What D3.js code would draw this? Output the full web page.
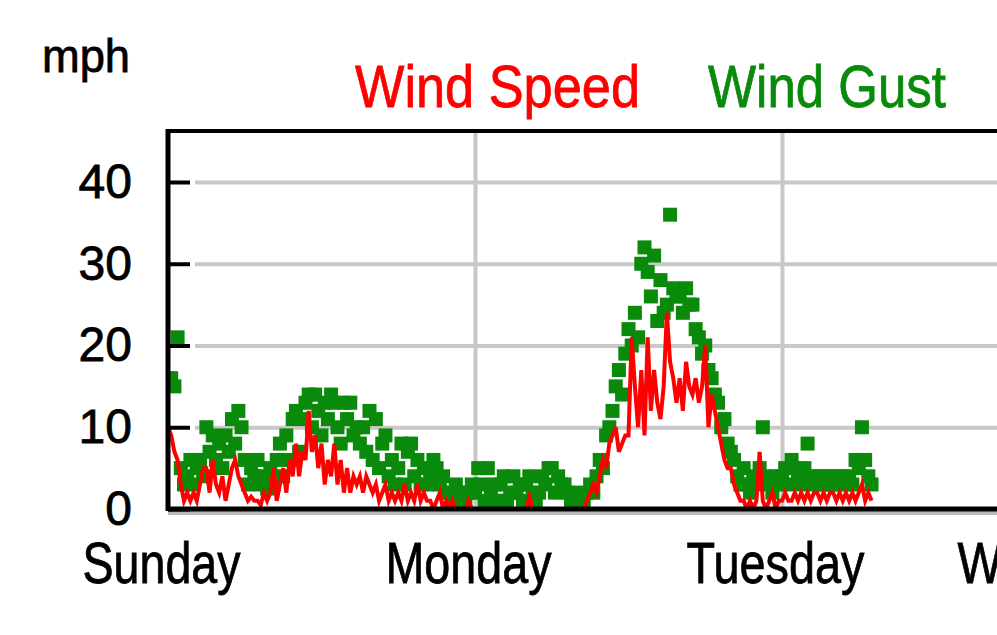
<!DOCTYPE html>
<html>
<head>
<meta charset="utf-8">
<script src="https://cdn.jsdelivr.net/npm/d3@7"></script>
<style>
  body { margin: 0; background: #fff; overflow: hidden; }
  svg { display: block; }
  text { font-family: "Liberation Sans", Arial, sans-serif; }
</style>
</head>
<body>
<svg id="chart" width="997" height="635"></svg>
<script>
// samples every 15 minutes, starting Sunday 00:00
var stepHours = 0.25;
var dayNames = ["Sunday", "Monday", "Tuesday", "Wednesday"];
var dayTicks = [0, 24, 48, 72];
var mphTicks = [0, 10, 20, 30, 40];

// one row per hour of the record
var windSpeed = [
  10, 9, 7, 6,   3, 1, 2, 1,   2, 1, 3, 5,   5, 2, 6, 3,
  2, 4, 1, 3,    5, 6, 4, 3,   2, 1, 1.5, 1, 1, 0.5, 2, 1,
  2, 5, 1, 3,    5, 2, 6, 4,   8, 4, 7, 6,   12, 7, 9, 5,
  8, 3, 6, 4,    8, 3, 6, 2,   5, 2, 4, 3,   4, 2, 4, 3,
  2, 3, 1, 2,    3, 1, 2, 1,   2, 1, 3, 1,   2, 1, 3, 1,
  2, 1, 1, 0,    1, 2, 0, 1,   0, 1, 0, 0,   0, 0, 1, 0,
  0, 0, 0, 0,    0, 0, 0, 0,   0, 0, 0, 0,   0, 0, 0, 0,
  0, 1.5, 0, 0,  0, 0, 0, 0,   0, 0, 0, 0,   0, 0, 0, 0,
  0, 0, 0, 1,    2, 3, 2, 4,   6, 5, 8, 9,   10, 7, 8, 9,
  9, 21, 15, 10, 17, 9, 21, 12, 17, 13, 11, 15, 24, 18, 16, 13,
  16, 12, 18, 15, 14, 16, 13, 15, 20, 10, 14, 12, 10, 8, 6, 5,
  5, 3, 2, 1,    1, 0, 1, 0,   1, 7, 1, 0,   1, 2, 0, 1,
  1, 2, 1, 1,    2, 1, 2, 1,   2, 1, 2, 2,   1, 2, 1, 2,
  2, 1, 2, 1,    2, 1, 2, 1,   2, 3, 1, 2,
  1];

var windGust = [
  16, 16, 15, 21, 5, 3, 4, 6,   3, 5, 6, 4,   10, 7, 9, 6,
  8, 5, 9, 7,    11, 8, 12, 10, 6, 3, 5, 4,   6, 3, 4, 2.5,
  5, 3, 6, 8,    4, 9, 6, 11,  12, 7, 11, 13, 14, 10, 14, 12,
  9, 13, 11, 14, 13, 10, 8, 13, 11, 13, 9, 10, 8, 10, 7, 12,
  6, 11, 5, 8,   9, 4, 6, 3,   5, 8, 3, 7,   8, 4, 6, 3,
  5, 3, 4, 6,    5, 3, 4, 2,   2, 1, 3, 1,   2, 1, 2, 3,
  2, 5, 3, 1,    5, 2, 3, 1,   3, 4, 1, 2,   4, 2, 3, 1,
  3, 4, 2, 1,    2, 4, 3, 5,   5, 2, 4, 3,   3, 2, 1, 2,
  1, 0, 1, 2,    3, 2, 4, 6,   5, 9, 10, 12, 15, 17, 14, 19,
  22, 20, 24, 21, 30, 32, 29, 26, 31, 23, 28, 24, 25, 36, 27, 26,
  26, 24, 27, 25, 25, 22, 21, 19, 20, 17, 16, 14, 13, 10, 11, 8,
  7, 6, 4, 3,    5, 3, 2, 4,   3, 5, 10, 4,  3, 2, 4, 3,
  4, 5, 3, 6,    5, 4, 3, 5,   8, 4, 3, 4,   3, 4, 3, 4,
  3, 4, 3, 4,    3, 4, 3, 6,   5, 10, 6, 4,
  3];

var svg = d3.select("#chart");

var plotLeft = 168, plotRight = 1120, plotTop = 131, plotBottom = 509;
var sq = 14;

var x = d3.scaleLinear().domain([0, 72]).range([plotLeft, 1089]);
var y = d3.scaleLinear().domain([0, 40]).range([plotBottom, 182]);

svg.append("clipPath")
  .attr("id", "plotClip")
  .append("rect")
  .attr("x", plotLeft).attr("y", plotTop)
  .attr("width", plotRight - plotLeft).attr("height", plotBottom - plotTop);

// grid lines
svg.append("g")
  .attr("transform", "translate(" + (plotLeft + 27) + ",0)")
  .call(d3.axisLeft(y).tickValues(mphTicks.slice(1)).tickSize(-(plotRight - plotLeft)).tickFormat(""))
  .call(function (g) {
    g.select(".domain").remove();
    g.selectAll("line").attr("stroke", "#c8c8c8").attr("stroke-width", 4);
  });

svg.append("g")
  .attr("transform", "translate(0," + plotTop + ")")
  .call(d3.axisBottom(x).tickValues(dayTicks.slice(1)).tickSize(plotBottom - plotTop).tickFormat(""))
  .call(function (g) {
    g.select(".domain").remove();
    g.selectAll("line").attr("stroke", "#c8c8c8").attr("stroke-width", 4);
  });

var marks = svg.append("g").attr("clip-path", "url(#plotClip)");

// gust squares
var gustPts = windGust.map(function (v, i) { return { h: i * stepHours, v: v }; });
marks.append("g")
  .selectAll("rect")
  .data(gustPts)
  .enter().append("rect")
  .attr("x", function (d) { return x(d.h) - sq / 2; })
  .attr("y", function (d) { return y(d.v) - sq / 2; })
  .attr("width", sq).attr("height", sq)
  .attr("fill", "#0a8a0a");

// speed line
var line = d3.line()
  .x(function (v, i) { return x(i * stepHours); })
  .y(function (v) { return y(v); });

marks.append("path")
  .datum(windSpeed)
  .attr("d", line)
  .attr("fill", "none")
  .attr("stroke", "#ff0000")
  .attr("stroke-width", 4);

// frame
svg.append("line")
  .attr("x1", plotLeft).attr("x2", plotRight).attr("y1", plotTop).attr("y2", plotTop)
  .attr("stroke", "#000").attr("stroke-width", 4);
svg.append("line")
  .attr("x1", plotLeft).attr("x2", plotRight).attr("y1", plotBottom + 4).attr("y2", plotBottom + 4)
  .attr("stroke", "#bbb").attr("stroke-width", 4);
svg.append("line")
  .attr("x1", plotLeft).attr("x2", plotRight).attr("y1", plotBottom).attr("y2", plotBottom)
  .attr("stroke", "#000").attr("stroke-width", 5);

// y axis with short black ticks inside the plot
svg.append("g")
  .attr("transform", "translate(" + plotLeft + ",0)")
  .call(d3.axisLeft(y).tickValues(mphTicks).tickSize(-22).tickPadding(36))
  .call(function (g) {
    g.select(".domain").attr("d", "M0," + (plotTop - 2) + "V" + (plotBottom + 2))
      .attr("stroke", "#000").attr("stroke-width", 5);
    g.selectAll("line").attr("stroke", "#000").attr("stroke-width", 4);
    g.selectAll("text").attr("font-size", 48).attr("fill", "#000")
      .attr("stroke", "#000").attr("stroke-width", 0.8);
  });

// x axis labels
svg.append("g")
  .attr("transform", "translate(0," + plotBottom + ")")
  .call(d3.axisBottom(x).tickValues(dayTicks).tickSize(0).tickPadding(33)
    .tickFormat(function (d, i) { return dayNames[i]; }))
  .call(function (g) {
    g.select(".domain").remove();
    g.selectAll("text")
      .attr("font-size", 58)
      .attr("fill", "#000")
      .attr("stroke", "#000").attr("stroke-width", 0.8)
      .attr("dx", -7)
      .attr("textLength", function (d, i) { return [158, 166, 178, 250][i]; })
      .attr("lengthAdjust", "spacingAndGlyphs");
  });

// units and legend
svg.append("text")
  .attr("x", 42).attr("y", 72)
  .attr("font-size", 47)
  .attr("stroke", "#000").attr("stroke-width", 0.8)
  .attr("textLength", 88).attr("lengthAdjust", "spacingAndGlyphs")
  .text("mph");

svg.append("text")
  .attr("x", 355).attr("y", 107)
  .attr("font-size", 60).attr("fill", "#ff0000")
  .attr("stroke", "#ff0000").attr("stroke-width", 0.8)
  .attr("textLength", 285).attr("lengthAdjust", "spacingAndGlyphs")
  .text("Wind Speed");

svg.append("text")
  .attr("x", 708).attr("y", 107)
  .attr("font-size", 60).attr("fill", "#0a8a0a")
  .attr("stroke", "#0a8a0a").attr("stroke-width", 0.8)
  .attr("textLength", 238).attr("lengthAdjust", "spacingAndGlyphs")
  .text("Wind Gust");
</script>
</body>
</html>
